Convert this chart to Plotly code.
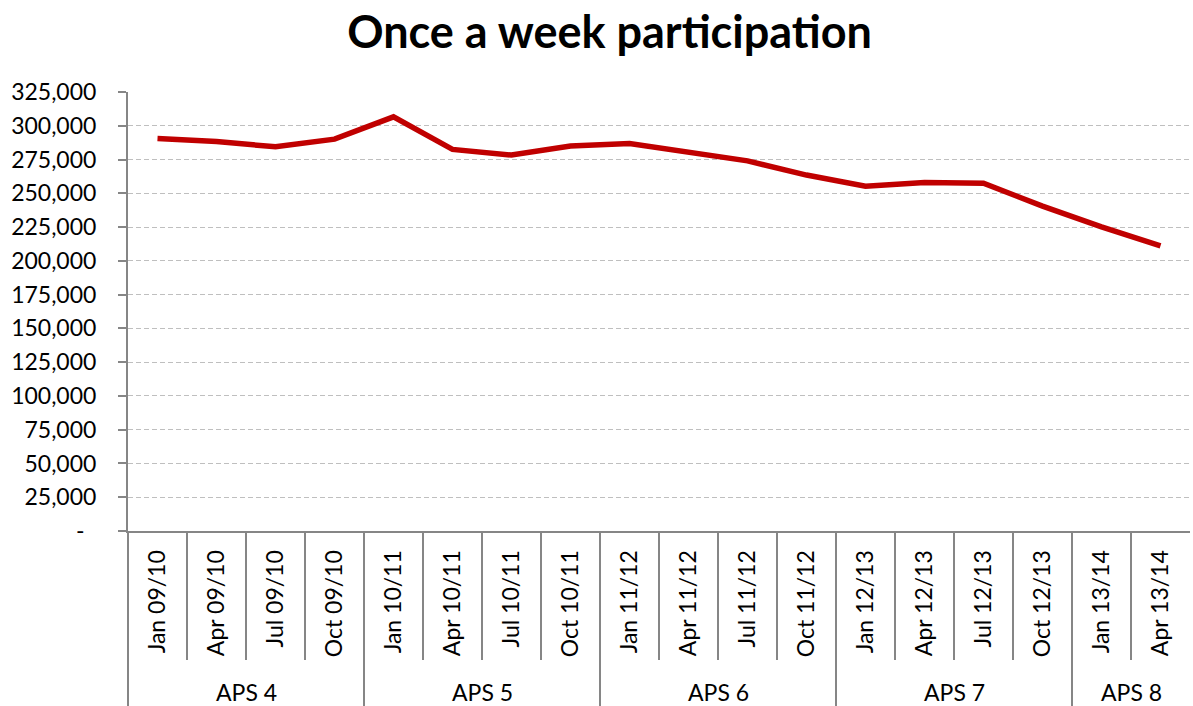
import plotly.graph_objects as go

categories = ["Jan 09/10", "Apr 09/10", "Jul 09/10", "Oct 09/10",
              "Jan 10/11", "Apr 10/11", "Jul 10/11", "Oct 10/11",
              "Jan 11/12", "Apr 11/12", "Jul 11/12", "Oct 11/12",
              "Jan 12/13", "Apr 12/13", "Jul 12/13", "Oct 12/13",
              "Jan 13/14", "Apr 13/14"]
values = [290600, 288300, 284400, 290100,
          306600, 282500, 278300, 285000,
          286900, 280700, 274000, 263500,
          255300, 258000, 257500, 240500,
          225200, 211000]
groups = ["APS 4", "APS 5", "APS 6", "APS 7", "APS 8"]
group_sizes = [4, 4, 4, 4, 2]
y_ticks = list(range(0, 325001, 25000))
y_ticktext = ["-\u00a0\u00a0"] + [f"{v:,}" for v in y_ticks[1:]]

FONT = "Lato"
AXIS_COLOR = "#868686"
FS = 23

fig = go.Figure()
fig.add_trace(go.Scatter(x=categories, y=values, mode="lines",
                         line=dict(color="#C00000", width=5.5),
                         showlegend=False, hoverinfo="x+y"))

n = len(categories)
top, bottom = 92, 531
plot_h = bottom - top
short_end = -(660 - bottom) / plot_h
long_end = -(706 - bottom) / plot_h
label_y = -(692 - bottom) / plot_h

shapes = []
annotations = []
group_bounds = [0]
for s in group_sizes:
    group_bounds.append(group_bounds[-1] + s)
for k in range(0, n):
    xp = k / n
    y_end = long_end if k in group_bounds else short_end
    shapes.append(dict(type="line", xref="paper", yref="paper", x0=xp, x1=xp,
                       y0=0, y1=y_end, line=dict(color=AXIS_COLOR, width=2)))
for g, a, b in zip(groups, group_bounds[:-1], group_bounds[1:]):
    annotations.append(dict(text=g, xref="paper", yref="paper", x=(a + b) / 2 / n,
                            y=label_y, showarrow=False, xanchor="center", yanchor="middle",
                            font=dict(family=FONT, size=FS, color="black")))

fig.update_layout(
    width=1193, height=706,
    margin=dict(l=128, r=3, t=top, b=706 - bottom),
    paper_bgcolor="white", plot_bgcolor="white",
    title=dict(text="<b>Once a week participation</b>", x=0.511, xref="container",
               y=1 - 32 / 706, yref="container", xanchor="center", yanchor="middle",
               font=dict(family=FONT, size=45, color="black")),
    font=dict(family=FONT, size=FS, color="black"),
    shapes=shapes, annotations=annotations,
)
fig.update_xaxes(type="category", range=[-0.5, n - 0.5], tickangle=-90,
                 showline=True, linecolor=AXIS_COLOR, linewidth=2,
                 ticks="", showgrid=False, zeroline=False, ticklabelstandoff=8,
                 tickfont=dict(family=FONT, size=FS, color="black"))
fig.update_yaxes(range=[0, 325000], tickvals=y_ticks, ticktext=y_ticktext,
                 showline=True, linecolor=AXIS_COLOR, linewidth=2,
                 ticks="outside", ticklen=8, tickcolor=AXIS_COLOR, tickwidth=2,
                 showgrid=True, gridcolor="#BFBFBF", gridwidth=1.3, griddash="5px,3px",
                 zeroline=False, ticklabelstandoff=17,
                 tickfont=dict(family=FONT, size=FS, color="black"))

fig.write_html("out.html", config={"displayModeBar": False},
               post_script="document.body.style.margin='0';")
